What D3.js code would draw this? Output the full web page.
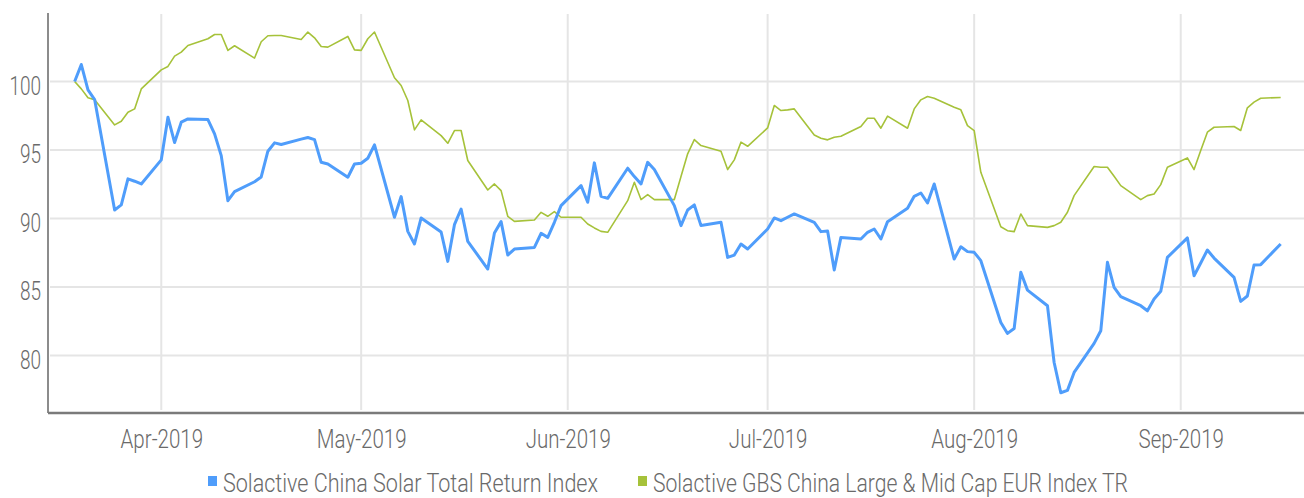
<!DOCTYPE html>
<html>
<head>
<meta charset="utf-8">
<script src="https://d3js.org/d3.v7.min.js"></script>
<style>
  body { margin: 0; background: #fff; }
  text { font-family: Roboto, "Noto Sans", sans-serif; font-weight: 300; fill: #6a6a6a; }
</style>
</head>
<body>
<div id="my_dataviz"></div>
<script>

// trading days
var dates = [
  "2019-03-19","2019-03-20","2019-03-21","2019-03-22","2019-03-25","2019-03-26","2019-03-27","2019-03-28","2019-03-29",
  "2019-04-01","2019-04-02","2019-04-03","2019-04-04","2019-04-05","2019-04-08","2019-04-09","2019-04-10","2019-04-11","2019-04-12",
  "2019-04-15","2019-04-16","2019-04-17","2019-04-18","2019-04-19","2019-04-22","2019-04-23","2019-04-24","2019-04-25","2019-04-26",
  "2019-04-29","2019-04-30","2019-05-01","2019-05-02","2019-05-03","2019-05-06","2019-05-07","2019-05-08","2019-05-09","2019-05-10",
  "2019-05-13","2019-05-14","2019-05-15","2019-05-16","2019-05-17","2019-05-20","2019-05-21","2019-05-22","2019-05-23","2019-05-24",
  "2019-05-27","2019-05-28","2019-05-29","2019-05-30","2019-05-31","2019-06-03","2019-06-04","2019-06-05","2019-06-06","2019-06-07",
  "2019-06-10","2019-06-11","2019-06-12","2019-06-13","2019-06-14","2019-06-17","2019-06-18","2019-06-19","2019-06-20","2019-06-21",
  "2019-06-24","2019-06-25","2019-06-26","2019-06-27","2019-06-28","2019-07-01","2019-07-02","2019-07-03","2019-07-04","2019-07-05",
  "2019-07-08","2019-07-09","2019-07-10","2019-07-11","2019-07-12","2019-07-15","2019-07-16","2019-07-17","2019-07-18","2019-07-19",
  "2019-07-22","2019-07-23","2019-07-24","2019-07-25","2019-07-26","2019-07-29","2019-07-30","2019-07-31","2019-08-01","2019-08-02",
  "2019-08-05","2019-08-06","2019-08-07","2019-08-08","2019-08-09","2019-08-12","2019-08-13","2019-08-14","2019-08-15","2019-08-16",
  "2019-08-19","2019-08-20","2019-08-21","2019-08-22","2019-08-23","2019-08-26","2019-08-27","2019-08-28","2019-08-29","2019-08-30",
  "2019-09-02","2019-09-03","2019-09-04","2019-09-05","2019-09-06","2019-09-09","2019-09-10","2019-09-11","2019-09-12","2019-09-13",
  "2019-09-16"
];

var solarValues = [
  100.0,101.24,99.39,98.68,90.62,90.99,92.89,92.72,92.52,
  94.28,97.39,95.54,97.03,97.27,97.22,96.18,94.59,91.30,91.96,
  92.68,93.03,94.91,95.52,95.40,95.79,95.91,95.76,94.10,93.98,
  93.01,93.98,94.03,94.40,95.37,90.09,91.60,89.06,88.14,90.04,
  89.01,86.87,89.55,90.69,88.33,86.31,88.94,89.77,87.33,87.77,
  87.89,88.92,88.62,89.72,90.94,92.40,91.18,94.06,91.62,91.47,
  93.67,93.06,92.52,94.10,93.57,90.94,89.48,90.62,90.99,89.48,
  89.72,87.16,87.33,88.14,87.77,89.23,90.04,89.84,90.09,90.33,
  89.72,89.04,89.09,86.24,88.62,88.50,88.99,89.23,88.50,89.77,
  90.74,91.62,91.86,91.13,92.52,87.04,87.94,87.58,87.53,86.92,
  82.41,81.61,81.97,86.07,84.77,83.63,79.49,77.28,77.45,78.76,
  80.88,81.80,86.80,84.97,84.29,83.63,83.26,84.12,84.68,87.16,
  88.58,85.82,86.75,87.70,87.11,85.70,83.95,84.34,86.60,86.63,
  88.14
];

var gbsValues = [
  100.0,99.46,98.81,98.66,96.83,97.10,97.76,98.00,99.46,
  100.85,101.10,101.85,102.14,102.63,103.12,103.43,103.43,102.27,102.61,
  101.71,102.90,103.34,103.36,103.36,103.07,103.61,103.19,102.56,102.51,
  103.29,102.31,102.27,103.12,103.61,100.27,99.71,98.61,96.47,97.20,
  96.05,95.49,96.42,96.42,94.23,92.08,92.52,92.03,90.16,89.79,
  89.89,90.45,90.16,90.50,90.09,90.09,89.60,89.31,89.06,88.99,
  91.30,92.64,91.38,91.74,91.38,91.38,93.06,94.72,95.76,95.32,
  94.91,93.57,94.28,95.57,95.27,96.61,98.25,97.88,97.93,98.00,
  96.10,95.86,95.74,95.93,96.00,96.71,97.32,97.32,96.59,97.47,
  96.59,98.00,98.66,98.90,98.78,98.12,97.93,96.78,96.42,93.37,
  89.40,89.11,89.04,90.33,89.48,89.35,89.48,89.72,90.45,91.67,
  93.79,93.74,93.74,93.08,92.40,91.38,91.67,91.79,92.47,93.74,
  94.42,93.57,94.96,96.30,96.66,96.71,96.42,98.08,98.49,98.78,
  98.83
];

var seriesNames = ["Solactive China Solar Total Return Index", "Solactive GBS China Large & Mid Cap EUR Index TR"];
var seriesColors = ["#4f9dfb", "#a6c23a"];
var yTicks = [80, 85, 90, 95, 100];
var monthTicks = ["2019-04-01","2019-05-01","2019-06-01","2019-07-01","2019-08-01","2019-09-01"];

var W = 1304, H = 498;
var plot = {left: 48, right: 1304, top: 13, bottom: 413};

var parse = d3.utcParse("%Y-%m-%d");
var fmt = d3.utcFormat("%b-%Y");

// squeeze text horizontally, the original uses a condensed face
function condense(sel, k) {
  sel.each(function() {
    var w = this.getComputedTextLength();
    d3.select(this)
      .attr("textLength", w * k)
      .attr("lengthAdjust", "spacingAndGlyphs");
  });
}

var svg = d3.select("#my_dataviz")
  .append("svg")
    .attr("width", W)
    .attr("height", H);

var x = d3.scaleUtc()
  .domain([parse("2019-03-15"), new Date(Date.UTC(2019, 8, 19, 12))])
  .range([plot.left, plot.right]);

var y = d3.scaleLinear()
  .domain([75.8, 105])
  .range([plot.bottom, plot.top]);

// horizontal grid
svg.append("g")
  .selectAll("line")
  .data(yTicks)
  .enter().append("line")
    .attr("x1", plot.left + 2)
    .attr("x2", plot.right)
    .attr("y1", function(d) { return y(d); })
    .attr("y2", function(d) { return y(d); })
    .attr("stroke", "#e5e5e5")
    .attr("stroke-width", 2);

// vertical grid at month starts
svg.append("g")
  .selectAll("line")
  .data(monthTicks.map(parse))
  .enter().append("line")
    .attr("x1", function(d) { return x(d); })
    .attr("x2", function(d) { return x(d); })
    .attr("y1", plot.top + 1)
    .attr("y2", plot.bottom - 3)
    .attr("stroke", "#e5e5e5")
    .attr("stroke-width", 2);

// y labels
var yAxis = svg.append("g")
  .attr("transform", "translate(" + plot.left + ",0)")
  .call(d3.axisLeft(y).tickValues(yTicks).tickSize(0).tickPadding(7));
yAxis.select(".domain").remove();
yAxis.selectAll("text")
  .attr("dy", "0.32em")
  .attr("y", 5)
  .style("font-size", "25px")
  .style("fill", "#6a6a6a")
  .style("font-family", null)
  .call(condense, 0.76);

// x labels
var xAxis = svg.append("g")
  .attr("transform", "translate(0," + plot.bottom + ")")
  .call(d3.axisBottom(x).tickValues(monthTicks.map(parse)).tickFormat(fmt).tickSize(0).tickPadding(17));
xAxis.select(".domain").remove();
xAxis.selectAll("text")
  .style("font-size", "25px")
  .style("fill", "#6a6a6a")
  .style("font-family", null)
  .call(condense, 0.82);

// axis lines
svg.append("line")
  .attr("x1", plot.left).attr("x2", plot.left)
  .attr("y1", plot.top).attr("y2", plot.bottom)
  .attr("stroke", "#8c8c8c").attr("stroke-width", 2);
svg.append("line")
  .attr("x1", plot.left).attr("x2", plot.right)
  .attr("y1", plot.bottom).attr("y2", plot.bottom)
  .attr("stroke", "#7a7a7a").attr("stroke-width", 2.5);

// the two series
var line = d3.line()
  .x(function(d) { return x(d.date); })
  .y(function(d) { return y(d.value); });

var gbsData = dates.map(function(d, i) { return {date: parse(d), value: gbsValues[i]}; });
var solarData = dates.map(function(d, i) { return {date: parse(d), value: solarValues[i]}; });

svg.append("path")
  .datum(gbsData)
  .attr("fill", "none")
  .attr("stroke", seriesColors[1])
  .attr("stroke-width", 1.6)
  .attr("stroke-linejoin", "round")
  .attr("d", line);

svg.append("path")
  .datum(solarData)
  .attr("fill", "none")
  .attr("stroke", seriesColors[0])
  .attr("stroke-width", 3)
  .attr("stroke-linejoin", "round")
  .attr("d", line);

// legend
var legendX = [208, 638];
var legendW = [375, 475];
var legend = svg.append("g");
seriesNames.forEach(function(name, i) {
  legend.append("rect")
    .attr("x", legendX[i]).attr("y", 476)
    .attr("width", 9).attr("height", 10)
    .attr("fill", seriesColors[i]);
  legend.append("text")
    .attr("x", legendX[i] + 15).attr("y", 492)
    .attr("textLength", legendW[i])
    .attr("lengthAdjust", "spacingAndGlyphs")
    .style("font-size", "25px")
    .text(name);
});

</script>
</body>
</html>
